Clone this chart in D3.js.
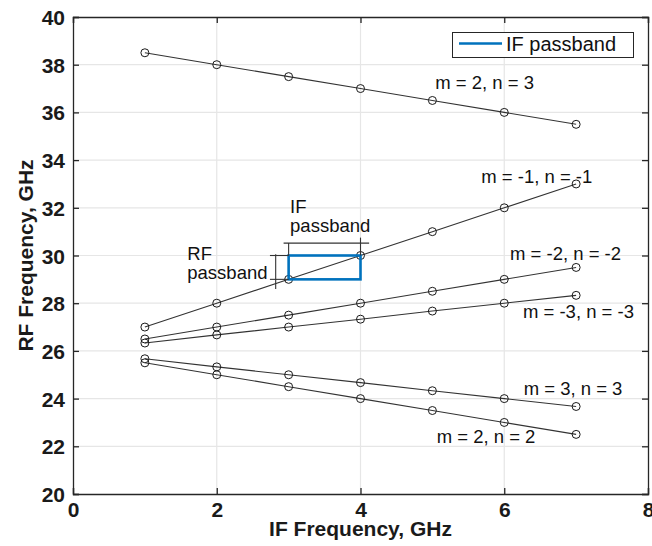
<!DOCTYPE html>
<html>
<head>
<meta charset="utf-8">
<script src="https://cdn.jsdelivr.net/npm/d3@7"></script>
<style>
  html, body { margin: 0; padding: 0; background: #fff; }
  svg { display: block; font-family: "Liberation Sans", Arial, sans-serif; }
</style>
</head>
<body>
<svg id="chart" width="652" height="546"></svg>
<script>
// IF frequencies (GHz) shared by all mixing products
const ifFreq = [1, 2, 3, 4, 5, 6, 7];

// RF frequency (GHz) of each spurious product m·LO + n·IF
const seriesM2N3   = [38.5, 38.0, 37.5, 37.0, 36.5, 36.0, 35.5];
const seriesMm1Nm1 = [27.0, 28.0, 29.0, 30.0, 31.0, 32.0, 33.0];
const seriesMm2Nm2 = [26.5, 27.0, 27.5, 28.0, 28.5, 29.0, 29.5];
const seriesMm3Nm3 = [26.33, 26.67, 27.0, 27.33, 27.67, 28.0, 28.33];
const seriesM3N3   = [25.67, 25.33, 25.0, 24.67, 24.33, 24.0, 23.67];
const seriesM2N2   = [25.5, 25.0, 24.5, 24.0, 23.5, 23.0, 22.5];

const seriesNames = ["m = 2, n = 3", "m = -1, n = -1", "m = -2, n = -2",
                     "m = -3, n = -3", "m = 3, n = 3", "m = 2, n = 2"];
const seriesValues = [seriesM2N3, seriesMm1Nm1, seriesMm2Nm2,
                      seriesMm3Nm3, seriesM3N3, seriesM2N2];

// Where each series label starts, in data units (x, baseline y)
const labelX = [5.04, 5.68, 6.08, 6.26, 6.27, 5.06];
const labelY = [36.98, 33.04, 29.81, 27.38, 24.15, 22.14];

// Passband rectangle: IF 3–4 GHz, RF 29–30 GHz
const ifBand = [3, 4];
const rfBand = [29, 30];

const xTicks = [0, 2, 4, 6, 8];
const yTicks = [20, 22, 24, 26, 28, 30, 32, 34, 36, 38, 40];

const svg = d3.select("#chart");
const margin = { left: 73, top: 17, right: 4, bottom: 52 };
const W = 652, H = 546;

const x = d3.scaleLinear().domain([0, 8]).range([margin.left, W - margin.right]);
const y = d3.scaleLinear().domain([20, 40]).range([H - margin.bottom, margin.top]);

const x0 = x.range()[0], x1 = x.range()[1];
const y0 = y.range()[0], y1 = y.range()[1];

// grid
const grid = svg.append("g");
grid.selectAll(".gx").data(xTicks.slice(1, -1)).join("line")
  .attr("x1", d => x(d)).attr("x2", d => x(d))
  .attr("y1", y0).attr("y2", y1)
  .attr("stroke", "#e6e6e6").attr("stroke-width", 1.2);
grid.selectAll(".gy").data(yTicks.slice(1, -1)).join("line")
  .attr("x1", x0).attr("x2", x1)
  .attr("y1", d => y(d)).attr("y2", d => y(d))
  .attr("stroke", "#e6e6e6").attr("stroke-width", 1.2);

// axes (ticks point inward, mirrored on top and right)
const tickLen = 6;
const axisColor = "#262626";
const fmt = d3.format("d");

const axBottom = svg.append("g").attr("transform", `translate(0,${y0})`)
  .call(d3.axisBottom(x).tickValues(xTicks).tickSize(-tickLen).tickPadding(8).tickFormat(fmt));
const axTop = svg.append("g").attr("transform", `translate(0,${y1})`)
  .call(d3.axisTop(x).tickValues(xTicks).tickSize(-tickLen).tickFormat(""));
const axLeft = svg.append("g").attr("transform", `translate(${x0},0)`)
  .call(d3.axisLeft(y).tickValues(yTicks).tickSize(-tickLen).tickPadding(8).tickFormat(fmt));
const axRight = svg.append("g").attr("transform", `translate(${x1},0)`)
  .call(d3.axisRight(y).tickValues(yTicks).tickSize(-tickLen).tickFormat(""));

[axBottom, axTop, axLeft, axRight].forEach(g => {
  g.select(".domain").attr("stroke", axisColor).attr("stroke-width", 1.3);
  g.selectAll(".tick line").attr("stroke", axisColor).attr("stroke-width", 1.3);
  g.selectAll("text").attr("fill", "#1a1a1a")
    .attr("font-family", "'Liberation Sans', Arial, sans-serif")
    .attr("font-size", 21).attr("font-weight", "bold");
});
axBottom.selectAll("text").attr("dy", "0.7em");
axLeft.selectAll("text").attr("dy", "0.36em");

// axis titles
svg.append("text")
  .attr("x", (x0 + x1) / 2).attr("y", 536)
  .attr("text-anchor", "middle")
  .attr("font-size", 21).attr("font-weight", "bold").attr("fill", "#1a1a1a")
  .text("IF Frequency, GHz");
svg.append("text")
  .attr("transform", `translate(33,${(y0 + y1) / 2}) rotate(-90)`)
  .attr("text-anchor", "middle")
  .attr("font-size", 21).attr("font-weight", "bold").attr("fill", "#1a1a1a")
  .text("RF Frequency, GHz");

// series lines and open circle markers
const line = d3.line().x((d, i) => x(ifFreq[i])).y(d => y(d));
const plot = svg.append("g");
seriesValues.forEach((vals, k) => {
  plot.append("path").datum(vals)
    .attr("d", line).attr("fill", "none")
    .attr("stroke", "#333").attr("stroke-width", 1.1);
  plot.selectAll(null).data(vals).join("circle")
    .attr("cx", (d, i) => x(ifFreq[i])).attr("cy", d => y(d))
    .attr("r", 4).attr("fill", "none")
    .attr("stroke", "#1a1a1a").attr("stroke-width", 1);
});

// series labels
seriesNames.forEach((name, k) => {
  svg.append("text")
    .attr("x", x(labelX[k])).attr("y", y(labelY[k]))
    .attr("font-size", 18.5).attr("fill", "#111")
    .text(name);
});

// IF passband rectangle
svg.append("rect")
  .attr("x", x(ifBand[0])).attr("y", y(rfBand[1]))
  .attr("width", x(ifBand[1]) - x(ifBand[0]))
  .attr("height", y(rfBand[0]) - y(rfBand[1]))
  .attr("fill", "none").attr("stroke", "#0072BD").attr("stroke-width", 2.6);

// dimension brackets for the passbands
const ann = svg.append("g").attr("stroke", "#333").attr("stroke-width", 1.1);
// IF bracket: horizontal bar above the box with end drops
const ifBarY = 30.52;
ann.append("line").attr("x1", x(2.93)).attr("x2", x(4.12))
  .attr("y1", y(ifBarY)).attr("y2", y(ifBarY));
ann.append("line").attr("x1", x(ifBand[0])).attr("x2", x(ifBand[0]))
  .attr("y1", y(ifBarY)).attr("y2", y(rfBand[1]));
ann.append("line").attr("x1", x(ifBand[1])).attr("x2", x(ifBand[1]))
  .attr("y1", y(30.75)).attr("y2", y(rfBand[1]));
// RF bracket: vertical bar left of the box with end ticks
const rfBarX = 2.82;
ann.append("line").attr("x1", x(rfBarX)).attr("x2", x(rfBarX))
  .attr("y1", y(30.05)).attr("y2", y(28.6));
ann.append("line").attr("x1", x(2.74)).attr("x2", x(ifBand[0]))
  .attr("y1", y(rfBand[1])).attr("y2", y(rfBand[1]));
ann.append("line").attr("x1", x(2.74)).attr("x2", x(ifBand[0]))
  .attr("y1", y(rfBand[0])).attr("y2", y(rfBand[0]));

const annText = [
  { lines: ["IF", "passband"], x: 3.02, y: 31.78 },
  { lines: ["RF", "passband"], x: 1.59, y: 29.81 }
];
annText.forEach(a => {
  const t = svg.append("text")
    .attr("x", x(a.x)).attr("y", y(a.y))
    .attr("font-size", 18.5).attr("fill", "#111");
  a.lines.forEach((s, i) => {
    t.append("tspan").attr("x", x(a.x)).attr("dy", i === 0 ? 0 : 19).text(s);
  });
});

// legend
const lg = svg.append("g");
lg.append("rect").attr("x", 452.5).attr("y", 32.5).attr("width", 181).attr("height", 25)
  .attr("fill", "#fff").attr("stroke", "#262626").attr("stroke-width", 1);
lg.append("line").attr("x1", 459).attr("x2", 502).attr("y1", 43.5).attr("y2", 43.5)
  .attr("stroke", "#0072BD").attr("stroke-width", 2.6);
lg.append("text").attr("x", 506).attr("y", 51)
  .attr("font-size", 20).attr("fill", "#111").text("IF passband");
</script>
</body>
</html>
